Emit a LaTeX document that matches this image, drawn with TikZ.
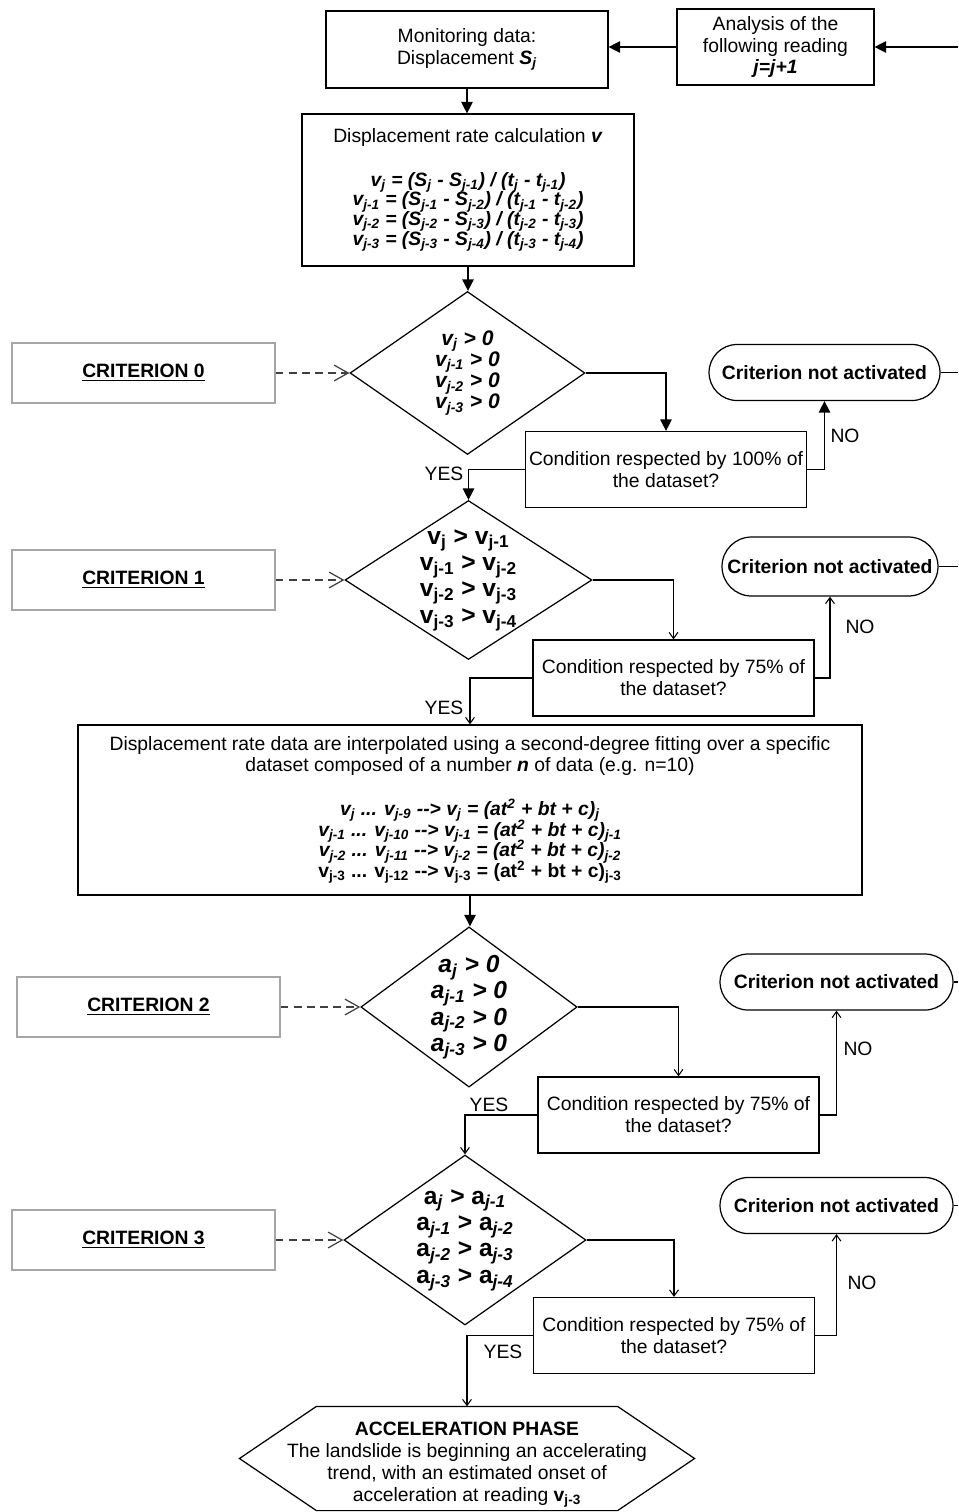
\documentclass[tikz,border=0pt]{standalone}
\usepackage{fontspec}
\setmainfont{Liberation Sans}
\usetikzlibrary{shapes.geometric,shapes.misc,arrows.meta}

\newcommand{\low}[1]{\textsubscript{#1}}
\newcommand{\bfit}[1]{\textbf{\textit{#1}}}
\newcommand{\tightlines}{\lineskiplimit=-10pt\relax}

\begin{document}
\begin{tikzpicture}[x=0.02cm,y=-0.02cm,line width=0.7pt,
	txt/.style={font=\fontsize{11}{12.5}\selectfont,align=center,inner sep=0pt},
	box/.style={txt,draw,rectangle},
	cond/.style={box,minimum width=5.62cm,minimum height=1.52cm},
	critbox/.style={txt,draw=black!35,minimum width=5.26cm,minimum height=1.2cm,font=\fontsize{11}{12.5}\selectfont\bfseries},
	notact/.style={txt,draw,rounded rectangle,minimum height=1.12cm,font=\fontsize{11}{12.5}\selectfont\bfseries},
	test/.style={txt,draw,diamond,shape aspect=1.5},
	flow/.style={-{Triangle[length=6.5pt,width=6.5pt]}},
	thinflow/.style={-{Straight Barb[length=3.5pt,width=5pt]},line width=0.6pt},
	link/.style={dash pattern=on 4.5pt off 3pt,draw=black!75,-{Straight Barb[length=8pt,width=9pt]}}]

	\useasboundingbox (0,0) rectangle (958,1512);

	\def\cut{1.54cm}

	% Donnees et lecture suivante
	\node[box,minimum width=5.64cm,minimum height=1.54cm] (mon) at (467,49.5) {Monitoring data:\\Displacement \bfit{S\low{j}}};
	\node[box,minimum width=3.94cm,minimum height=1.52cm] (ana) at (775.5,47) {Analysis of the\\following reading\\\bfit{j=j+1}};
	\coordinate (back) at (958,47);

	\node[box,minimum width=6.64cm,minimum height=3.04cm,font=\fontsize{11}{11.2}\selectfont\tightlines] (rate) at (468,190) {Displacement rate calculation \bfit{v}\\[13.5pt]
		\bfit{v\low{j} = (S\low{j} - S\low{j-1}) / (t\low{j} - t\low{j-1})}\\
		\bfit{v\low{j-1} = (S\low{j-1} - S\low{j-2}) / (t\low{j-1} - t\low{j-2})}\\
		\bfit{v\low{j-2} = (S\low{j-2} - S\low{j-3}) / (t\low{j-2} - t\low{j-3})}\\
		\bfit{v\low{j-3} = (S\low{j-3} - S\low{j-4}) / (t\low{j-3} - t\low{j-4})}};

	\draw[flow] (back) -- (ana.east);
	\draw[flow] (ana.west) -- (ana.west -| mon.east);
	\draw[flow] (mon.south) -- (mon.south |- rate.north);

	% Criterion 0
	\node[critbox] (k0) at (143.5,373) {\underline{CRITERION 0}};
	\node[test,minimum width=4.7cm,minimum height=3.26cm,font=\fontsize{12}{12}\selectfont] (d0) at (467.5,373) {\bfit{v\low{j} > 0}\\\bfit{v\low{j-1} > 0}\\\bfit{v\low{j-2} > 0}\\\bfit{v\low{j-3} > 0}};
	\node[cond] (c0) at (666,469.5) {Condition respected by 100\% of\\the dataset?};
	\node[notact,minimum width=4.62cm] (na0) at (824.5,372.5) {Criterion not activated};
	\node[txt] (yes0) at (444,474) {YES};
	\node[txt] (no0) at (845,436) {NO};

	\draw[flow] (rate.south) -- (rate.south |- d0.north);
	\draw[link] (k0) -- (d0);
	\draw[flow] (d0.east) -| (c0.north);
	\draw[flow] (c0.east) -| (na0.south);
	\draw (na0.east) -- (na0.east -| back);

	% Criterion 1
	\node[critbox] (k1) at (143.5,580) {\underline{CRITERION 1}};
	\node[test,minimum width=4.94cm,minimum height=3.18cm,inner sep=-2pt,font=\fontsize{14}{15}\selectfont] (d1) at (468.5,580) {\textbf{v\low{j} > v\low{j-1}}\\\textbf{v\low{j-1} > v\low{j-2}}\\\textbf{v\low{j-2} > v\low{j-3}}\\\textbf{v\low{j-3} > v\low{j-4}}};
	\node[cond] (c1) at (673.5,678) {Condition respected by 75\% of\\the dataset?};
	\node[notact,minimum width=4.32cm,minimum height=1.18cm] (na1) at (830,566.5) {Criterion not activated};
	\node[txt] (yes1) at (444,708) {YES};
	\node[txt] (no1) at (860,627) {NO};

	\draw[flow] (c0.west) -| (d1.north);
	\draw[link] (k1) -- (d1);
	\draw[thinflow] (d1.east) -| (c1.north);
	\draw[thinflow] (c1.east) -| (na1.south);
	\draw (na1.east) -- (na1.east -| back);

	% Interpolation
	\node[box,minimum width=15.68cm,minimum height=3.4cm,font=\fontsize{11}{11.8}\selectfont\tightlines] (fit) at (470,810) {Displacement rate data are interpolated using a second-degree fitting over a specific\\[0.5pt]
		dataset composed of a number \bfit{n} of data (e.g. n=10)\\[13pt]
		\bfit{v\low{j} ... v\low{j-9} -{}-> v\low{j} = (at\textsuperscript{2} + bt + c)\low{j}}\\
		\bfit{v\low{j-1} ... v\low{j-10} -{}-> v\low{j-1} = (at\textsuperscript{2} + bt + c)\low{j-1}}\\
		\bfit{v\low{j-2} ... v\low{j-11} -{}-> v\low{j-2} = (at\textsuperscript{2} + bt + c)\low{j-2}}\\
		\textbf{v\low{j-3} ... v\low{j-12} -{}-> v\low{j-3} = (at\textsuperscript{2} + bt + c)\low{j-3}}};

	\draw[thinflow] (c1.west) -| (fit.north);

	% Criterion 2
	\node[critbox] (k2) at (148.5,1007) {\underline{CRITERION 2}};
	\node[test,minimum width=4.32cm,minimum height=3.2cm,shape aspect=1.35,font=\fontsize{14}{15}\selectfont] (d2) at (469,1007) {\bfit{a\low{j} > 0}\\\bfit{a\low{j-1} > 0}\\\bfit{a\low{j-2} > 0}\\\bfit{a\low{j-3} > 0}};
	\node[cond] (c2) at (678.5,1115) {Condition respected by 75\% of\\the dataset?};
	\node[notact,minimum width=4.66cm] (na2) at (836.5,982) {Criterion not activated};
	\node[txt] (yes2) at (489,1105) {YES};
	\node[txt] (no2) at (858,1049) {NO};

	\draw[flow] (fit.south) -- (fit.south |- d2.north);
	\draw[link] (k2) -- (d2);
	\draw[thinflow] (d2.east) -| (c2.north);
	\draw[thinflow] (c2.east) -| (na2.south);
	\draw (na2.east) -- (na2.east -| back);

	% Criterion 3
	\node[critbox] (k3) at (143.5,1240) {\underline{CRITERION 3}};
	\node[test,minimum width=4.84cm,minimum height=3.4cm,shape aspect=1.42,font=\fontsize{14}{15}\selectfont] (d3) at (465,1240) {\textbf{a\low{\textit{j}} > a\low{\textit{j-1}}}\\\textbf{a\low{\textit{j-1}} > a\low{\textit{j-2}}}\\\textbf{a\low{\textit{j-2}} > a\low{\textit{j-3}}}\\\textbf{a\low{\textit{j-3}} > a\low{\textit{j-4}}}};
	\node[cond] (c3) at (674,1335.5) {Condition respected by 75\% of\\the dataset?};
	\node[notact,minimum width=4.66cm] (na3) at (836.5,1205.5) {Criterion not activated};
	\node[txt] (yes3) at (503,1352) {YES};
	\node[txt] (no3) at (862,1283) {NO};

	\draw[thinflow] (c2.west) -| (d3.north);
	\draw[link] (k3) -- (d3);
	\draw[thinflow] (d3.east) -| (c3.north);
	\draw[thinflow] (c3.east) -| (na3.south);
	\draw (na3.east) -- (na3.east -| back);

	% Phase d'acceleration
	\node[minimum width=9.08cm,minimum height=2.06cm,inner sep=0pt] (phase) at (467,1458.5) {};
	\draw (phase.west) -- ([xshift=\cut]phase.north west) -- ([xshift=-\cut]phase.north east) -- (phase.east) -- ([xshift=-\cut]phase.south east) -- ([xshift=\cut]phase.south west) -- cycle;
	\node[txt] (phasetxt) at (467,1465) {\textbf{ACCELERATION PHASE}\\The landslide is beginning an accelerating\\trend, with an estimated onset of\\acceleration at reading \textbf{v\low{j-3}}};

	\draw[thinflow] (c3.west) -| (phase.north);

\end{tikzpicture}
\end{document}
